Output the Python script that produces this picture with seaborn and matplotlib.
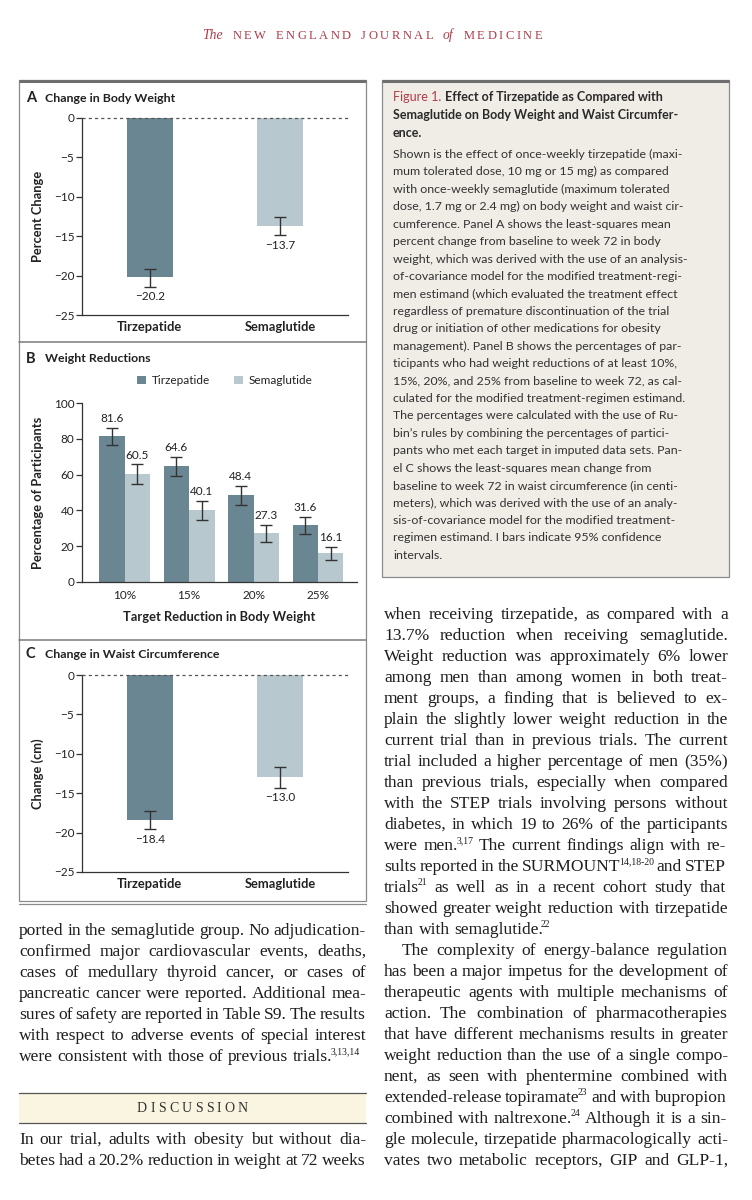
import numpy as np
import pandas as pd
import matplotlib
matplotlib.use("Agg")
import matplotlib.pyplot as plt
import seaborn as sns
from matplotlib.patches import Rectangle

# ---------------- data ----------------
drugs = ["Tirzepatide", "Semaglutide"]

weight_change = [-20.2, -13.7]
weight_ci_low = [-21.4, -14.9]
weight_ci_high = [-19.1, -12.6]

targets = ["10%", "15%", "20%", "25%"]
tirz_pct = [81.6, 64.6, 48.4, 31.6]
tirz_lo = [76.8, 59.2, 43.1, 26.8]
tirz_hi = [86.3, 70.0, 53.7, 36.4]
sema_pct = [60.5, 40.1, 27.3, 16.1]
sema_lo = [55.0, 34.9, 22.6, 12.4]
sema_hi = [65.9, 45.3, 32.0, 19.8]

waist_change = [-18.4, -13.0]
waist_ci_low = [-19.6, -14.3]
waist_ci_high = [-17.2, -11.7]

change_ticks = [0, -5, -10, -15, -20, -25]
pct_ticks = [0, 20, 40, 60, 80, 100]

header_words = ["The", "NEW", "ENGLAND", "JOURNAL", "of", "MEDICINE"]

caption_title = ["Effect of Tirzepatide as Compared with",
                 "Semaglutide on Body Weight and Waist Circumfer-",
                 "ence."]
caption_body = [
    "Shown is the effect of once-weekly tirzepatide (maxi-",
    "mum tolerated dose, 10 mg or 15 mg) as compared",
    "with once-weekly semaglutide (maximum tolerated",
    "dose, 1.7 mg or 2.4 mg) on body weight and waist cir-",
    "cumference. Panel A shows the least-squares mean",
    "percent change from baseline to week 72 in body",
    "weight, which was derived with the use of an analysis-",
    "of-covariance model for the modified treatment-regi-",
    "men estimand (which evaluated the treatment effect",
    "regardless of premature discontinuation of the trial",
    "drug or initiation of other medications for obesity",
    "management). Panel B shows the percentages of par-",
    "ticipants who had weight reductions of at least 10%,",
    "15%, 20%, and 25% from baseline to week 72, as cal-",
    "culated for the modified treatment-regimen estimand.",
    "The percentages were calculated with the use of Ru-",
    "bin\u2019s rules by combining the percentages of partici-",
    "pants who met each target in imputed data sets. Pan-",
    "el C shows the least-squares mean change from",
    "baseline to week 72 in waist circumference (in centi-",
    "meters), which was derived with the use of an analy-",
    "sis-of-covariance model for the modified treatment-",
    "regimen estimand. I bars indicate 95% confidence",
    "intervals.",
]

left_lines = [
    "ported in the semaglutide group. No adjudication-",
    "confirmed major cardiovascular events, deaths,",
    "cases of medullary thyroid cancer, or cases of",
    "pancreatic cancer were reported. Additional mea-",
    "sures of safety are reported in Table S9. The results",
    "with respect to adverse events of special interest",
    "were consistent with those of previous trials.^3,13,14",
]
discussion_lines = [
    "In our trial, adults with obesity but without dia-",
    "betes had a 20.2% reduction in weight at 72 weeks",
]
right_lines = [
    "when receiving tirzepatide, as compared with a",
    "13.7% reduction when receiving semaglutide.",
    "Weight reduction was approximately 6% lower",
    "among men than among women in both treat-",
    "ment groups, a finding that is believed to ex-",
    "plain the slightly lower weight reduction in the",
    "current trial than in previous trials. The current",
    "trial included a higher percentage of men (35%)",
    "than previous trials, especially when compared",
    "with the STEP trials involving persons without",
    "diabetes, in which 19 to 26% of the participants",
    "were men.^3,17 The current findings align with re-",
    "sults reported in the SURMOUNT^14,18-20 and STEP",
    "trials^21 as well as in a recent cohort study that",
    "showed greater weight reduction with tirzepatide",
    "than with semaglutide.^22",
    "The complexity of energy-balance regulation",
    "has been a major impetus for the development of",
    "therapeutic agents with multiple mechanisms of",
    "action. The combination of pharmacotherapies",
    "that have different mechanisms results in greater",
    "weight reduction than the use of a single compo-",
    "nent, as seen with phentermine combined with",
    "extended-release topiramate^23 and with bupropion",
    "combined with naltrexone.^24 Although it is a sin-",
    "gle molecule, tirzepatide pharmacologically acti-",
    "vates two metabolic receptors, GIP and GLP-1,",
]

# ---------------- style ----------------
sns.set_style("ticks")
SANS = ["Lato", "DejaVu Sans"]
SERIF = ["Liberation Serif", "DejaVu Serif"]
plt.rcParams["font.family"] = SANS
plt.rcParams["axes.unicode_minus"] = True

DARK = "#6a8693"
LIGHT = "#b8c8cf"
INK = "#222222"
BODY = "#1e1e1e"
RED = "#b03a48"

W, H = 752, 1200
fig = plt.figure(figsize=(W / 100, H / 100), dpi=100)
fig.patch.set_facecolor("white")
bg = fig.add_axes([0, 0, 1, 1])
bg.set_xlim(0, W)
bg.set_ylim(H, 0)
bg.axis("off")
bg.set_zorder(-1)
renderer = fig.canvas.get_renderer()


def tw(s, **kw):
    t = bg.text(0, 0, s, **kw)
    w = t.get_window_extent(renderer).width
    t.remove()
    return w


def ax_at(x0, y0, x1, y1):
    return fig.add_axes([x0 / W, 1 - y1 / H, (x1 - x0) / W, (y1 - y0) / H])


# ---------------- boxes ----------------
bg.add_patch(Rectangle((19, 80), 347, 821, fc="white", ec="#8a8a8a", lw=0.9))
bg.plot([19, 366], [80.5, 80.5], color="#6e6e6e", lw=2.2, solid_capstyle="butt")
for yy in (342, 640):
    bg.plot([19, 366], [yy, yy], color="#7a7a7a", lw=1.1)
bg.plot([19, 366], [904, 904], color="#8a8a8a", lw=0.9)

bg.add_patch(Rectangle((382, 80), 347, 497, fc="#f0ece6", ec="#8a8a8a", lw=0.9))
bg.plot([382, 729], [80.5, 80.5], color="#6e6e6e", lw=2.2, solid_capstyle="butt")

# discussion band
bg.add_patch(Rectangle((19, 1093), 347, 30, fc="#faf5e0", ec="none"))
bg.plot([19, 366], [1093, 1093], color="#555555", lw=0.9)
bg.plot([19, 366], [1123, 1123], color="#555555", lw=0.9)


# ---------------- common axis styling ----------------
def style_axis(ax):
    ax.set_facecolor("none")
    sns.despine(ax=ax, top=True, right=True)
    for s in ("left", "bottom"):
        ax.spines[s].set_color("#333333")
        ax.spines[s].set_linewidth(0.9)
    ax.tick_params(axis="y", direction="out", length=4, width=0.9, color="#333333",
                   labelsize=8.5, labelcolor=INK, pad=1.5)
    ax.tick_params(axis="x", length=0)


ebar_kw = dict(fmt="none", ecolor="#333333", elinewidth=1.0, capsize=4.5, capthick=1.0, zorder=5)


def change_panel(ax, values, lo, hi, ylabel):
    sns.barplot(x=drugs, y=values, hue=drugs, palette=[DARK, LIGHT], legend=False,
                width=0.35, saturation=1, errorbar=None, linewidth=0, ax=ax)
    xs = np.arange(len(drugs))
    v = np.array(values)
    ax.errorbar(xs, v, yerr=[v - np.array(lo), np.array(hi) - v], **ebar_kw)
    for x, l, val in zip(xs, lo, values):
        ax.annotate(f"{val:.1f}".replace("-", "\u2212"), (x, l), xytext=(0, -3),
                    textcoords="offset points", ha="center", va="top",
                    fontsize=8.5, color=INK)
    ax.axhline(0, color="#555555", lw=0.9, ls=(0, (2.5, 2.5)), clip_on=False, zorder=6)
    ax.set_ylim(-25, 0)
    ax.set_xlim(-0.52, 1.52)
    ax.set_yticks(change_ticks)
    style_axis(ax)
    ax.set_xticks(xs)
    ax.set_xticklabels(drugs, fontsize=9.3, fontweight="bold", color=INK)
    ax.tick_params(axis="x", pad=4)
    ax.set_xlabel("")
    ax.set_ylabel(ylabel, fontsize=9.3, fontweight="bold", color=INK)
    ax.yaxis.set_label_coords(-0.165, 0.5)
    ax.yaxis.label.set_verticalalignment("center")


# Panel A
axA = ax_at(82, 118, 348, 315)
change_panel(axA, weight_change, weight_ci_low, weight_ci_high, "Percent Change")

# Panel C
axC = ax_at(82, 675, 348, 872)
change_panel(axC, waist_change, waist_ci_low, waist_ci_high, "Change (cm)")

# Panel B
axB = ax_at(82, 403, 357, 582)
dfB = pd.DataFrame({
    "target": targets * 2,
    "drug": [drugs[0]] * len(targets) + [drugs[1]] * len(targets),
    "pct": tirz_pct + sema_pct,
})
sns.barplot(data=dfB, x="target", y="pct", hue="drug", palette=[DARK, LIGHT],
            width=0.79, saturation=1, errorbar=None, linewidth=0, ax=axB)
for cont, vals, lo, hi in zip(axB.containers, [tirz_pct, sema_pct], [tirz_lo, sema_lo], [tirz_hi, sema_hi]):
    xs = [b.get_x() + b.get_width() / 2 for b in cont]
    v = np.array(vals)
    axB.errorbar(xs, v, yerr=[v - np.array(lo), np.array(hi) - v], **ebar_kw)
    for x, h, val in zip(xs, hi, vals):
        axB.annotate(f"{val:.1f}", (x, h), xytext=(0, 2.5), textcoords="offset points",
                     ha="center", va="bottom", fontsize=8.5, color=INK)
axB.set_ylim(0, 100)
axB.set_xlim(-0.66, 3.605)
axB.set_yticks(pct_ticks)
style_axis(axB)
axB.set_xticks(range(len(targets)))
axB.set_xticklabels(targets, fontsize=8.5, color=INK)
axB.tick_params(axis="x", pad=6)
axB.set_xlabel("Target Reduction in Body Weight", fontsize=9.3, fontweight="bold", color=INK, labelpad=7)
axB.set_ylabel("Percentage of Participants", fontsize=9.3, fontweight="bold", color=INK)
axB.yaxis.set_label_coords(-0.16, 0.5)
axB.yaxis.label.set_verticalalignment("center")
sns.move_legend(axB, "center", bbox_to_anchor=(0.52, 1.125), ncol=2, frameon=False, title=None,
                handlelength=0.75, handleheight=0.75, handletextpad=0.5, columnspacing=2.0,
                fontsize=8.5, borderaxespad=0)
for t in axB.get_legend().get_texts():
    t.set_color(INK)

# panel titles
for letter, title, yy in (("A", "Change in Body Weight", 98),
                          ("B", "Weight Reductions", 359),
                          ("C", "Change in Waist Circumference", 654)):
    bg.text(26, yy, letter, fontsize=10.5, fontweight="bold", color=INK, ha="left", va="center")
    bg.text(45, yy, title, fontsize=8.9, fontweight="bold", color=INK, ha="left", va="center")

# ---------------- header ----------------
caps = dict(fontsize=9.0, family=SERIF, color=RED)
ital = dict(fontsize=9.8, family=SERIF, style="italic", color=RED)
word_gap = 10.0
tracked_flags = [False, True, True, True, False, True]
natural = 0
n_track = 0
char_widths = []
for wd, trk in zip(header_words, tracked_flags):
    if trk:
        cw = [tw(c, **caps) for c in wd]
        char_widths.append(cw)
        natural += sum(cw)
        n_track += len(wd) - 1
    else:
        w_ = tw(wd, **ital)
        char_widths.append([w_])
        natural += w_
natural += word_gap * (len(header_words) - 1)
target_w = 340
track = (target_w - natural) / max(n_track, 1)
x = 372 - target_w / 2
for i, (wd, trk, cw) in enumerate(zip(header_words, tracked_flags, char_widths)):
    if trk:
        for c, w_ in zip(wd, cw):
            bg.text(x, 39, c, ha="left", va="baseline", **caps)
            x += w_ + track
        x -= track
    else:
        bg.text(x, 39, wd, ha="left", va="baseline", **ital)
        x += cw[0]
    x += word_gap

# ---------------- caption ----------------
cap_x = 393
cap_size = 8.9
title_size = 9.0
t_fig = "Figure 1."
bg.text(cap_x, 96.7 + 4, t_fig, fontsize=title_size, color=RED, ha="left", va="baseline")
fw = tw(t_fig, fontsize=title_size) + tw("a a", fontsize=title_size) - tw("aa", fontsize=title_size)
for i, line in enumerate(caption_title):
    xx = cap_x + (fw if i == 0 else 0)
    bg.text(xx, 96.7 + 4 + i * 18, line, fontsize=title_size, fontweight="bold", color="#2a2a2a",
            ha="left", va="baseline")
for i, line in enumerate(caption_body):
    bg.text(cap_x, 154 + 4 + i * 17.43, line, fontsize=cap_size, color="#333333",
            ha="left", va="baseline")

# ---------------- justified serif body text ----------------
BODY_SIZE = 12.6
SUP = 0.56
body_kw = dict(family=SERIF, color=BODY)
space_w = tw("a a", fontsize=BODY_SIZE, **body_kw) - tw("aa", fontsize=BODY_SIZE, **body_kw)


def measure(words, size):
    items = []
    for wd in words:
        if "^" in wd:
            base, sup = wd.split("^")
        else:
            base, sup = wd, ""
        wb = tw(base, fontsize=size, **body_kw) if base else 0
        ws = tw(sup, fontsize=size * SUP, **body_kw) if sup else 0
        items.append((base, sup, wb, ws))
    return items


def draw_line(line, x0, x1, yc, justify=True, indent=0.0):
    words = line.split(" ")
    size = BODY_SIZE
    items = measure(words, size)
    total = sum(i[2] + i[3] for i in items)
    avail = x1 - x0 - indent
    n = len(items)
    min_gap = 0.65 * space_w
    if justify and n > 1:
        gap = (avail - total) / (n - 1)
        if gap < min_gap:
            size = size * (avail - min_gap * (n - 1)) / total
            items = measure(words, size)
            total = sum(i[2] + i[3] for i in items)
            gap = (avail - total) / (n - 1)
    else:
        gap = space_w
    x = x0 + indent
    yb = yc + 5
    px = size * 100 / 72
    for base, sup, wb, ws in items:
        bg.text(x, yb, base, fontsize=size, ha="left", va="baseline", **body_kw)
        if sup:
            bg.text(x + wb - 1.8, yb - px * 0.38, sup, fontsize=size * SUP,
                    ha="left", va="baseline", **body_kw)
            ws -= 1.8
        x += wb + ws + gap


for i, line in enumerate(left_lines):
    draw_line(line, 19, 366, 930 + 21 * i, justify=(i != len(left_lines) - 1))

# DISCUSSION heading with letter spacing
disc = "DISCUSSION"
dkw = dict(fontsize=10.0, family=SERIF, color="#333333")
dws = [tw(c, **dkw) for c in disc]
dtrack = (111 - sum(dws)) / (len(disc) - 1)
x = 192.5 - 111 / 2
for c, w_ in zip(disc, dws):
    bg.text(x, 1107 + 5, c, ha="left", va="baseline", **dkw)
    x += w_ + dtrack

for i, line in enumerate(discussion_lines):
    draw_line(line, 19, 366, 1139 + 21 * i, justify=True)

for i, line in enumerate(right_lines):
    last_of_para = (i == 15)
    indent = 18 if i == 16 else 0
    draw_line(line, 384, 728, 614 + 21 * i, justify=not last_of_para, indent=indent)

fig.savefig("out.png", dpi=100, facecolor="white")
